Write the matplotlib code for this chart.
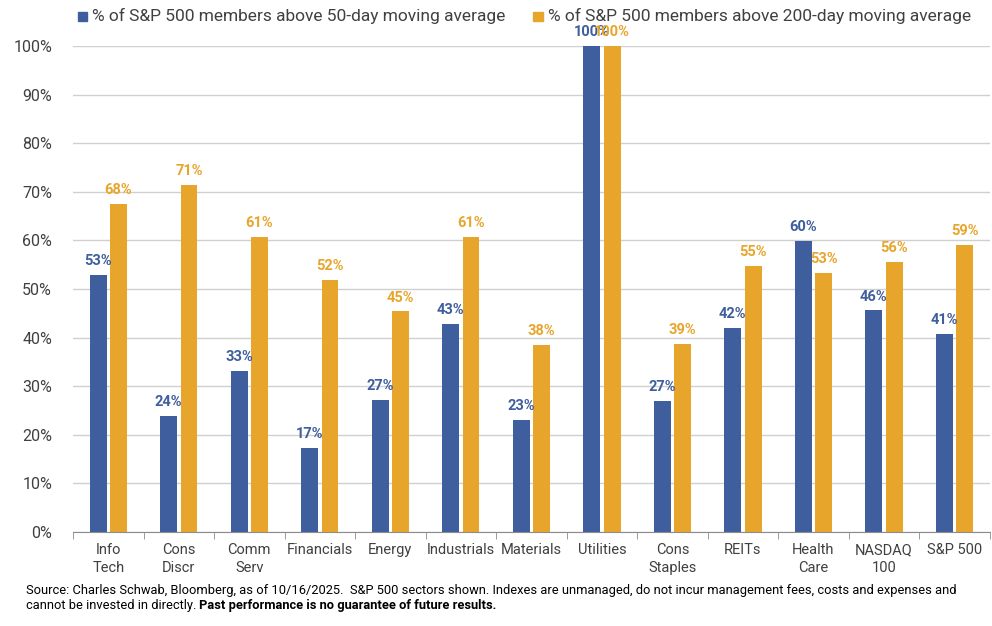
import numpy as np
import matplotlib
matplotlib.use("Agg")
import matplotlib.pyplot as plt
from matplotlib.patches import Rectangle

plt.rcParams['font.family'] = ['Roboto', 'DejaVu Sans']

categories = ['Info\nTech', 'Cons\nDiscr', 'Comm\nServ', 'Financials', 'Energy',
              'Industrials', 'Materials', 'Utilities', 'Cons\nStaples', 'REITs',
              'Health\nCare', 'NASDAQ\n100', 'S&P 500']
above_50d = [52.9, 23.9, 33.1, 17.3, 27.2, 42.8, 23.0, 100, 27.0, 42.0, 59.9, 45.6, 40.7]
above_200d = [67.6, 71.4, 60.8, 51.9, 45.4, 60.7, 38.5, 100, 38.7, 54.8, 53.3, 55.6, 59.1]
legend_labels = ['% of S&P 500 members above 50-day moving average',
                 '% of S&P 500 members above 200-day moving average']

blue = '#3F5E9D'
orange = '#E8A52C'
text_grey = '#404040'

fig = plt.figure(figsize=(9.92, 6.26), dpi=100)
ax = fig.add_axes([0.0736, 0.150, 0.924, 0.7765])

x = np.arange(len(categories))
w = 0.24
off = 0.145
b1 = ax.bar(x - off, above_50d, w, color=blue, zorder=3)
b2 = ax.bar(x + off, above_200d, w, color=orange, zorder=3)

for bars, vals, c in [(b1, above_50d, blue), (b2, above_200d, orange)]:
    for b, v in zip(bars, vals):
        ax.text(b.get_x() + b.get_width() / 2, v + 1.4, '%d%%' % round(v),
                ha='center', va='bottom', color=c, fontsize=10.5,
                fontweight='bold', clip_on=False, zorder=4)

ax.set_xlim(-0.5, len(categories) - 0.5)
ax.set_ylim(0, 100)
ax.set_yticks(np.arange(0, 101, 10))
ax.set_yticklabels(['%d%%' % t for t in range(0, 101, 10)])
ax.yaxis.grid(True, color='#D0D0D0', linewidth=1)
ax.tick_params(axis='y', length=0, pad=15, labelsize=11.5, labelcolor=text_grey)

# category labels centred, tick marks at category boundaries
ax.set_xticks(x)
ax.set_xticklabels(categories, fontsize=10.5, color=text_grey, linespacing=1.3)
ax.set_xticks(np.arange(-0.5, len(categories), 1), minor=True)
ax.tick_params(axis='x', which='major', length=0, pad=8)
ax.tick_params(axis='x', which='minor', length=5, color='#8C8C8C')

for s in ['top', 'right', 'left']:
    ax.spines[s].set_visible(False)
ax.spines['bottom'].set_color('#8C8C8C')
ax.spines['bottom'].set_zorder(5)

# legend across the top
for xs, lab, c in [(0.0786, legend_labels[0], blue), (0.5375, legend_labels[1], orange)]:
    fig.patches.append(Rectangle((xs, 0.966), 0.0095, 0.015, color=c,
                                 transform=fig.transFigure, figure=fig))
    fig.text(xs + 0.0145, 0.974, lab, fontsize=12.5, color=text_grey, va='center')

# footnote
fs = 9.3
fig.text(0.026, 0.056, 'Source: Charles Schwab, Bloomberg, as of 10/16/2025.  S&P 500 sectors shown. '
         'Indexes are unmanaged, do not incur management fees, costs and expenses and',
         fontsize=fs, color='black', va='center')
t = fig.text(0.026, 0.032, 'cannot be invested in directly. ', fontsize=fs, color='black', va='center')
fig.canvas.draw()
bb = t.get_window_extent().transformed(fig.transFigure.inverted())
fig.text(bb.x1, 0.032, 'Past performance is no guarantee of future results.',
         fontsize=fs, color='black', va='center', fontweight='bold')

plt.savefig('out.png', dpi=100)
